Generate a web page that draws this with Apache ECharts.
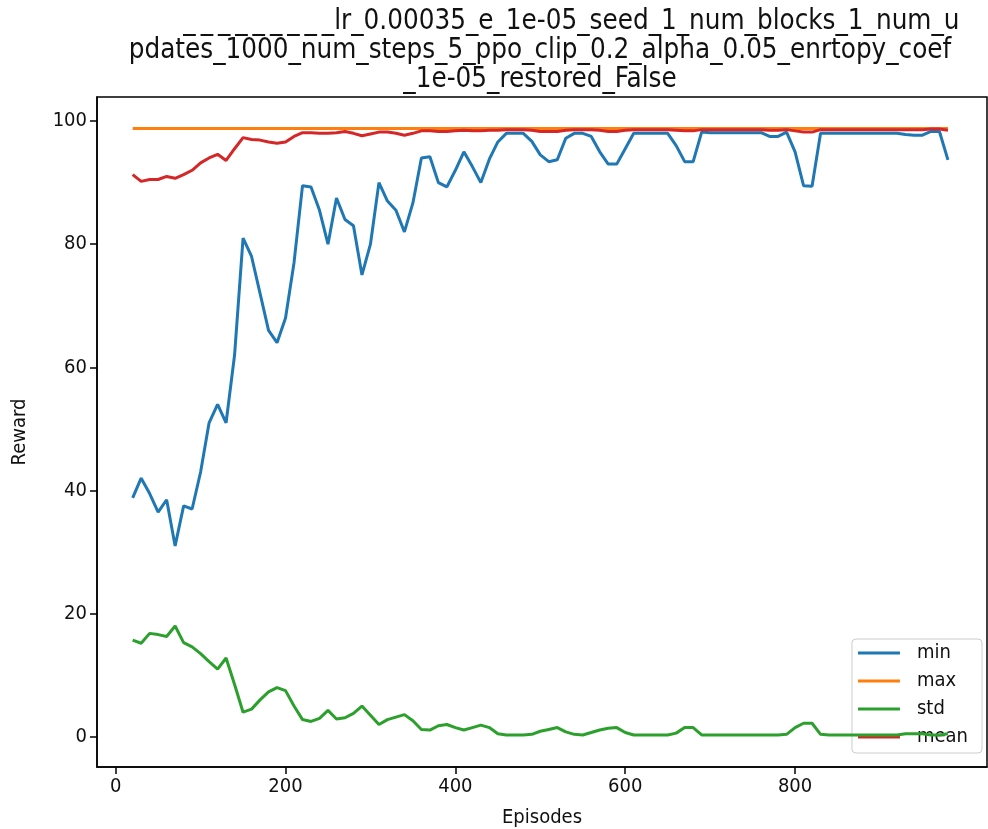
<!DOCTYPE html>
<html>
<head>
<meta charset="utf-8">
<script src="https://cdn.jsdelivr.net/npm/echarts@6/dist/echarts.min.js"></script>
<style>
  html, body { margin: 0; padding: 0; background: #fff; }
  #main { width: 988px; height: 829px; }
</style>
</head>
<body>
<div id="main"></div>
<script>
var episodes = [20, 30, 40, 50, 60, 70, 80, 90, 100, 110, 120, 130, 140, 150, 160, 170, 180, 190, 200,
  210, 220, 230, 240, 250, 260, 270, 280, 290, 300, 310, 320, 330, 340, 350, 360, 370, 380, 390, 400,
  410, 420, 430, 440, 450, 460, 470, 480, 490, 500, 510, 520, 530, 540, 550, 560, 570, 580, 590, 600,
  610, 620, 630, 640, 650, 660, 670, 680, 690, 700, 710, 720, 730, 740, 750, 760, 770, 780, 790, 800,
  810, 820, 830, 840, 850, 860, 870, 880, 890, 900, 910, 920, 930, 940, 950, 960, 970, 980];

var minVals = [38.8, 42.0, 39.5, 36.5, 38.5, 31.0, 37.5, 37.0, 43.0, 51.0, 54.0, 51.0, 62.0, 81.0, 78.0, 72.0, 66.0, 64.0, 68.0,
  77.0, 89.5, 89.3, 85.5, 80.0, 87.5, 84.0, 83.0, 75.0, 80.0, 90.0, 87.0, 85.5, 82.0, 86.7, 94.0, 94.2, 90.0, 89.3, 92.0,
  95.0, 92.6, 90.0, 93.8, 96.6, 98.0, 98.0, 98.0, 96.7, 94.5, 93.4, 93.7, 97.2, 98.0, 98.0, 97.5, 95.0, 93.0, 93.0, 95.5,
  98.0, 98.0, 98.0, 98.0, 98.0, 96.0, 93.4, 93.4, 98.2, 98.1, 98.1, 98.1, 98.1, 98.1, 98.1, 98.1, 97.5, 97.5, 98.2, 95.0,
  89.5, 89.4, 98.0, 98.0, 98.0, 98.0, 98.0, 98.0, 98.0, 98.0, 98.0, 98.0, 97.8, 97.7, 97.7, 98.3, 98.3, 93.7];

var maxVals = [98.8, 98.8, 98.8, 98.8, 98.8, 98.8, 98.8, 98.8, 98.8, 98.8, 98.8, 98.8, 98.8, 98.8, 98.8, 98.8, 98.8, 98.8, 98.8,
  98.8, 98.8, 98.8, 98.8, 98.8, 98.8, 98.8, 98.8, 98.8, 98.8, 98.8, 98.8, 98.8, 98.8, 98.8, 98.8, 98.8, 98.8, 98.8, 98.8,
  98.8, 98.8, 98.8, 98.8, 98.8, 98.8, 98.8, 98.8, 98.8, 98.8, 98.8, 98.8, 98.8, 98.8, 98.8, 98.8, 98.8, 98.8, 98.8, 98.8,
  98.8, 98.8, 98.8, 98.8, 98.8, 98.8, 98.8, 98.8, 98.8, 98.8, 98.8, 98.8, 98.8, 98.8, 98.8, 98.8, 98.8, 98.8, 98.8, 98.8,
  98.8, 98.8, 98.8, 98.8, 98.8, 98.8, 98.8, 98.8, 98.8, 98.8, 98.8, 98.8, 98.8, 98.8, 98.8, 98.8, 98.8, 98.8];

var stdVals = [15.7, 15.2, 16.8, 16.6, 16.3, 18.0, 15.3, 14.6, 13.5, 12.2, 11.0, 12.8, 8.5, 4.0, 4.5, 6.0, 7.3, 8.0, 7.5,
  5.0, 2.8, 2.5, 3.0, 4.3, 2.9, 3.1, 3.8, 5.0, 3.5, 2.0, 2.8, 3.2, 3.6, 2.6, 1.2, 1.1, 1.8, 2.0, 1.5,
  1.1, 1.5, 1.9, 1.5, 0.5, 0.3, 0.3, 0.3, 0.4, 0.9, 1.2, 1.5, 0.8, 0.4, 0.3, 0.7, 1.1, 1.4, 1.5, 0.7,
  0.3, 0.3, 0.3, 0.3, 0.3, 0.6, 1.5, 1.5, 0.3, 0.3, 0.3, 0.3, 0.3, 0.3, 0.3, 0.3, 0.3, 0.3, 0.4, 1.5,
  2.2, 2.2, 0.4, 0.3, 0.3, 0.3, 0.3, 0.3, 0.3, 0.3, 0.3, 0.3, 0.5, 0.5, 0.5, 0.3, 0.3, 0.5];

var meanVals = [91.3, 90.2, 90.5, 90.5, 91.0, 90.7, 91.3, 92.0, 93.2, 94.0, 94.6, 93.6, 95.5, 97.3, 97.0, 96.9, 96.6, 96.4, 96.6,
  97.5, 98.1, 98.1, 98.0, 98.0, 98.1, 98.3, 98.0, 97.6, 97.9, 98.2, 98.2, 98.0, 97.7, 98.0, 98.4, 98.4, 98.3, 98.3, 98.4,
  98.5, 98.4, 98.4, 98.5, 98.5, 98.6, 98.6, 98.6, 98.5, 98.3, 98.3, 98.3, 98.5, 98.6, 98.6, 98.6, 98.5, 98.3, 98.3, 98.5,
  98.6, 98.6, 98.6, 98.6, 98.6, 98.5, 98.4, 98.4, 98.6, 98.6, 98.6, 98.6, 98.6, 98.6, 98.6, 98.6, 98.5, 98.5, 98.6, 98.4,
  98.2, 98.2, 98.6, 98.6, 98.6, 98.6, 98.6, 98.6, 98.6, 98.6, 98.6, 98.6, 98.6, 98.6, 98.6, 98.7, 98.7, 98.5];

var xTicks = [0, 200, 400, 600, 800];
var yTicks = [0, 20, 40, 60, 80, 100];
var seriesNames = ['min', 'max', 'std', 'mean'];
var colors = ['#1f77b4', '#ff7f0e', '#2ca02c', '#d62728'];

// first line starts with glyphs the original font could not draw, only the underscores show
var titleLines = [
  '\u00a0\u00a0\u00a0\u00a0\u00a0\u00a0\u00a0\u00a0_\u2009_\u2009_\u2009_\u2009_\u2009_\u2009_\u2009_\u2009_lr_0.00035_e_1e-05_seed_1_num_blocks_1_num_u',
  'pdates_1000_num_steps_5_ppo_clip_0.2_alpha_0.05_enrtopy_coef',
  '_1e-05_restored_False'
];

var font = 'DejaVu Sans Condensed, DejaVu Sans, sans-serif';

function pairs(vals) {
  return episodes.map(function (e, i) { return [e, vals[i]]; });
}

var allVals = [minVals, maxVals, stdVals, meanVals];

var chart = echarts.init(document.getElementById('main'));
var option = {
  backgroundColor: '#fff',
  animation: false,
  title: {
    text: titleLines.join('\n'),
    left: 535,
    textAlign: 'center',
    top: 2,
    textStyle: {
      fontFamily: font,
      fontSize: 27.5,
      fontWeight: 'normal',
      color: '#111',
      lineHeight: 29
    }
  },
  legend: {
    orient: 'vertical',
    right: 6,
    bottom: 76,
    data: seriesNames,
    icon: 'rect',
    itemWidth: 42,
    itemHeight: 3,
    itemGap: 8,
    padding: [4, 14, 6, 6],
    backgroundColor: 'rgba(255,255,255,0.8)',
    borderColor: '#ccc',
    borderWidth: 1,
    borderRadius: 4,
    textStyle: { fontFamily: font, fontSize: 20, color: '#111', padding: [0, 0, 0, 12] }
  },
  grid: {
    left: 97,
    right: 1,
    top: 97,
    bottom: 62,
    outerBoundsMode: 'none',
    show: true,
    borderColor: '#000',
    borderWidth: 1.5,
    backgroundColor: 'transparent'
  },
  xAxis: {
    type: 'value',
    min: -22,
    max: 1026,
    name: 'Episodes',
    nameLocation: 'middle',
    nameGap: 41,
    nameTextStyle: { fontFamily: font, fontSize: 20, color: '#111' },
    splitLine: { show: false },
    axisLine: { show: true, onZero: false, lineStyle: { color: '#000', width: 1.5 } },
    axisTick: { show: true, inside: false, length: 7, lineStyle: { color: '#000', width: 1.5 }, customValues: xTicks },
    axisLabel: { fontFamily: font, fontSize: 20, color: '#111', margin: 10, customValues: xTicks }
  },
  yAxis: {
    type: 'value',
    min: -4.9,
    max: 103.9,
    name: 'Reward',
    nameLocation: 'middle',
    nameGap: 67,
    nameTextStyle: { fontFamily: font, fontSize: 20, color: '#111' },
    splitLine: { show: false },
    axisLine: { show: true, onZero: false, lineStyle: { color: '#000', width: 1.5 } },
    axisTick: { show: true, inside: false, length: 7, lineStyle: { color: '#000', width: 1.5 }, customValues: yTicks },
    axisLabel: { fontFamily: font, fontSize: 20, color: '#111', margin: 10, customValues: yTicks }
  },
  series: seriesNames.map(function (name, i) {
    return {
      name: name,
      type: 'line',
      data: pairs(allVals[i]),
      showSymbol: false,
      symbol: 'none',
      color: colors[i],
      lineStyle: { width: 3, color: colors[i] },
      z: 2 + i
    };
  })
};
chart.setOption(option);
</script>
</body>
</html>
